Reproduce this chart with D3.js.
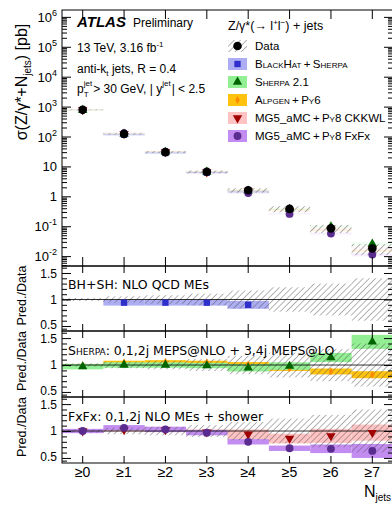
<!DOCTYPE html>
<html>
<head>
<meta charset="utf-8">
<script src="https://cdn.jsdelivr.net/npm/d3@7"></script>
<style>
  body { margin: 0; background: #fff; }
  svg text { font-family: "Liberation Sans", Arial, sans-serif; fill: #000; }
  .sc { font-variant: small-caps; }
  .dv { font-family: "DejaVu Sans", sans-serif; }
</style>
</head>
<body>
<div id="chart"></div>
<script>
// ---- data ----
var categories = ["≥0", "≥1", "≥2", "≥3", "≥4", "≥5", "≥6", "≥7"];
var dataXsec   = [780, 122, 30, 6.6, 1.6, 0.38, 0.085, 0.018];   // pb
var dataUnc    = [0.03, 0.06, 0.08, 0.11, 0.17, 0.23, 0.30, 0.40];

// ratios Pred./Data and their relative band half-widths
var bhshRatio   = [null, 0.94, 0.94, 0.94, 0.90, null, null, null];
var bhshUnc     = [null, 0.055, 0.055, 0.055, 0.075, null, null, null];
var sherpaRatio = [0.97, 1.00, 1.00, 0.99, 0.95, 0.98, 1.14, 1.43];
var sherpaUnc   = [0.05, 0.05, 0.05, 0.05, 0.07, 0.07, 0.085, 0.13];
var alpgenRatio = [0.99, 1.05, 1.06, 1.05, 1.01, 0.94, 0.88, 0.82];
var alpgenUnc   = [0.03, 0.03, 0.03, 0.03, 0.045, 0.05, 0.055, 0.065];
var ckkwlRatio  = [1.00, 1.02, 1.02, 0.98, 0.94, 0.86, 0.91, 0.97];
var ckkwlUnc    = [0.03, 0.03, 0.04, 0.05, 0.09, 0.09, 0.13, 0.15];
var fxfxRatio   = [1.00, 1.06, 1.03, 0.97, 0.80, 0.68, 0.67, 0.63];
var fxfxUnc     = [0.04, 0.05, 0.05, 0.05, 0.05, 0.05, 0.08, 0.13];

var mainTicks = [1e-2, 1e-1, 1, 10, 1e2, 1e3, 1e4, 1e5, 1e6];
var ratioTicks = [0.5, 1, 1.5];

function init() {
    var w = 392, h = 506;
    var x0 = 62, x1 = 393;

    var models = {
        bhsh:   {ratio: bhshRatio,   unc: bhshUnc,   band: "#adadf3", col: "#2f2fcc", sym: d3.symbolSquare,   size: 40, rot: 0},
        sherpa: {ratio: sherpaRatio, unc: sherpaUnc, band: "#93ef93", col: "#006400", sym: d3.symbolTriangle, size: 38, rot: 0},
        alpgen: {ratio: alpgenRatio, unc: alpgenUnc, band: "#ffc20e", col: "#ff8a00", sym: d3.symbolDiamond,  size: 18, rot: 0},
        ckkwl:  {ratio: ckkwlRatio,  unc: ckkwlUnc,  band: "#ffc3c3", col: "#a00000", sym: d3.symbolTriangle, size: 38, rot: 180},
        fxfx:   {ratio: fxfxRatio,   unc: fxfxUnc,   band: "#c28cf0", col: "#5b2c8f", sym: d3.symbolCircle,   size: 48, rot: 0}
    };

    var svg = d3.select("#chart").append("svg")
                .attr("width", w)
                .attr("height", h);

    // hatch pattern for the data uncertainty
    var defs = svg.append("defs");
    defs.append("pattern")
        .attr("id", "hatch")
        .attr("patternUnits", "userSpaceOnUse")
        .attr("width", 4.4).attr("height", 4.4)
        .attr("patternTransform", "rotate(45)")
      .append("line")
        .attr("x1", 0).attr("y1", 0).attr("x2", 0).attr("y2", 4.4)
        .attr("stroke", "#555").attr("stroke-width", 0.9);

    var x = d3.scaleBand().domain(categories).range([x0, x1]).padding(0);
    var bw = x.bandwidth();
    var cx = function(i) { return x(categories[i]) + bw / 2; };

    var yMain = d3.scaleLog()
                  .domain([Math.pow(10, -2.33), Math.pow(10, 6.23)])
                  .range([266, 10]);

    var panels = [[266, 331], [331, 397], [397, 463]];
    var yR = panels.map(function(p) {
        return d3.scaleLinear().domain([0.406, 1.632]).range([p[1], p[0]]);
    });

    panels.concat([[10, 266]]).forEach(function(p, i) {
        defs.append("clipPath").attr("id", "clip" + i)
            .append("rect").attr("x", x0).attr("y", p[0])
            .attr("width", x1 - x0).attr("height", p[1] - p[0]);
    });

    // ---------- main panel ----------
    var gm = svg.append("g").attr("clip-path", "url(#clip3)");

    // model bands (drawn pale)
    ["bhsh", "sherpa", "alpgen", "ckkwl", "fxfx"].forEach(function(k) {
        var m = models[k];
        categories.forEach(function(c, i) {
            if (m.ratio[i] == null) return;
            var v = dataXsec[i] * m.ratio[i];
            gm.append("rect")
              .attr("x", x(c)).attr("width", bw)
              .attr("y", yMain(v * (1 + m.unc[i])))
              .attr("height", yMain(v * (1 - m.unc[i])) - yMain(v * (1 + m.unc[i])))
              .attr("fill", m.band).attr("opacity", k === "bhsh" ? 0.55 : 0.14);
        });
    });

    // data hatch boxes
    gm.selectAll("rect.dunc")
      .data(categories)
      .enter().append("rect")
      .attr("class", "dunc")
      .attr("x", function(d) { return x(d); })
      .attr("width", bw)
      .attr("y", function(d, i) { return yMain(dataXsec[i] * (1 + dataUnc[i])); })
      .attr("height", function(d, i) {
          return yMain(dataXsec[i] * (1 - dataUnc[i])) - yMain(dataXsec[i] * (1 + dataUnc[i]));
      })
      .attr("fill", "url(#hatch)");

    // model markers
    ["ckkwl", "alpgen", "bhsh", "sherpa", "fxfx"].forEach(function(k) {
        var m = models[k];
        categories.forEach(function(c, i) {
            if (m.ratio[i] == null) return;
            gm.append("path")
              .attr("d", d3.symbol().type(m.sym).size(m.size)())
              .attr("transform", "translate(" + cx(i) + "," + yMain(dataXsec[i] * m.ratio[i]) + ") rotate(" + m.rot + ")")
              .attr("fill", m.col);
        });
    });

    // data markers
    gm.selectAll("circle.data")
      .data(categories)
      .enter().append("circle")
      .attr("cx", function(d, i) { return cx(i); })
      .attr("cy", function(d, i) { return yMain(dataXsec[i]); })
      .attr("r", 4.3)
      .attr("fill", "#000");

    // main axes
    var minor = [];
    for (var e = -3; e <= 6; e++) {
        for (var k = 2; k <= 9; k++) {
            var v = k * Math.pow(10, e);
            if (v > yMain.domain()[0] && v < yMain.domain()[1]) minor.push(v);
        }
    }
    svg.append("g").attr("transform", "translate(" + x0 + ",0)")
       .call(d3.axisRight(yMain).tickValues(mainTicks).tickSize(9).tickFormat(""));
    svg.append("g").attr("transform", "translate(" + x0 + ",0)")
       .call(d3.axisRight(yMain).tickValues(minor).tickSize(5).tickFormat(""));
    svg.append("g").attr("transform", "translate(" + x1 + ",0)")
       .call(d3.axisLeft(yMain).tickValues(mainTicks).tickSize(9).tickFormat(""));
    svg.append("g").attr("transform", "translate(" + x1 + ",0)")
       .call(d3.axisLeft(yMain).tickValues(minor).tickSize(5).tickFormat(""));
    svg.append("g").attr("transform", "translate(0,266)")
       .call(d3.axisTop(x).tickSize(9).tickFormat(""));
    svg.append("g").attr("transform", "translate(0,10)")
       .call(d3.axisBottom(x).tickSize(9).tickFormat(""));

    // main tick labels
    var labs = svg.append("g");
    mainTicks.forEach(function(v) {
        var ex = Math.round(Math.log10(v));
        var t = labs.append("text")
            .attr("x", 57).attr("y", yMain(v) + 5)
            .attr("text-anchor", "end")
            .style("font-size", "13px");
        if (ex === 0) { t.text("1"); }
        else if (ex === 1) { t.text("10"); }
        else {
            t.append("tspan").text("10");
            t.append("tspan").attr("dy", -6).style("font-size", "9px").text(ex < 0 ? "-" + (-ex) : ex);
        }
    });

    // ---------- ratio panels ----------
    var panelModels = [["bhsh"], ["alpgen", "sherpa"], ["ckkwl", "fxfx"]];
    var rMinor = [0.45, 0.6, 0.7, 0.8, 0.9, 1.1, 1.2, 1.3, 1.4, 1.6];

    panels.forEach(function(p, pi) {
        var y = yR[pi];
        var g = svg.append("g").attr("clip-path", "url(#clip" + pi + ")");

        panelModels[pi].forEach(function(k) {
            var m = models[k];
            categories.forEach(function(c, i) {
                if (m.ratio[i] == null) return;
                g.append("rect")
                 .attr("x", x(c)).attr("width", bw)
                 .attr("y", y(m.ratio[i] + m.unc[i]))
                 .attr("height", y(m.ratio[i] - m.unc[i]) - y(m.ratio[i] + m.unc[i]))
                 .attr("fill", m.band);
            });
        });

        // data uncertainty hatch around 1
        g.selectAll("rect.h")
         .data(categories)
         .enter().append("rect")
         .attr("x", function(d) { return x(d); })
         .attr("width", bw)
         .attr("y", function(d, i) { return y(1 + dataUnc[i]); })
         .attr("height", function(d, i) { return y(1 - dataUnc[i]) - y(1 + dataUnc[i]); })
         .attr("fill", "url(#hatch)");

        g.append("line")
         .attr("x1", x0).attr("x2", x1)
         .attr("y1", y(1)).attr("y2", y(1))
         .attr("stroke", "#000").attr("stroke-width", 0.8);

        panelModels[pi].forEach(function(k) {
            var m = models[k];
            categories.forEach(function(c, i) {
                if (m.ratio[i] == null) return;
                g.append("path")
                 .attr("d", d3.symbol().type(m.sym).size(m.size)())
                 .attr("transform", "translate(" + cx(i) + "," + y(m.ratio[i]) + ") rotate(" + m.rot + ")")
                 .attr("fill", m.col);
            });
        });

        svg.append("g").attr("transform", "translate(" + x0 + ",0)")
           .call(d3.axisRight(y).tickValues(ratioTicks).tickSize(9).tickFormat(""));
        svg.append("g").attr("transform", "translate(" + x0 + ",0)")
           .call(d3.axisRight(y).tickValues(rMinor).tickSize(5).tickFormat(""));
        svg.append("g").attr("transform", "translate(" + x1 + ",0)")
           .call(d3.axisLeft(y).tickValues(ratioTicks).tickSize(9).tickFormat(""));
        svg.append("g").attr("transform", "translate(" + x1 + ",0)")
           .call(d3.axisLeft(y).tickValues(rMinor).tickSize(5).tickFormat(""));
        svg.append("g").attr("transform", "translate(0," + p[1] + ")")
           .call(d3.axisTop(x).tickSize(7).tickFormat(""));
        svg.append("g").attr("transform", "translate(0," + p[0] + ")")
           .call(d3.axisBottom(x).tickSize(7).tickFormat(""));

        ratioTicks.forEach(function(v) {
            svg.append("text")
               .attr("x", 57).attr("y", y(v) + (v === 0.5 ? 3 : v === 1.5 ? 5 : 4))
               .attr("text-anchor", "end")
               .style("font-size", "12px")
               .text(v);
        });

        svg.append("text")
           .attr("transform", "translate(26," + ((p[0] + p[1]) / 2 - 3) + ") rotate(-90)")
           .attr("text-anchor", "middle")
           .style("font-size", "12.5px")
           .text("Pred./Data");
    });

    // frames
    svg.selectAll(".domain").remove();
    panels.concat([[10, 266]]).forEach(function(p) {
        svg.append("rect")
           .attr("x", x0).attr("y", p[0])
           .attr("width", x1 - x0).attr("height", p[1] - p[0])
           .attr("fill", "none").attr("stroke", "#000").attr("stroke-width", 1);
    });
    svg.selectAll(".tick line").attr("stroke", "#000").attr("stroke-width", 1);

    // x tick labels
    svg.selectAll("text.xl")
       .data(categories)
       .enter().append("text")
       .attr("x", function(d, i) { return cx(i); })
       .attr("y", 477)
       .attr("text-anchor", "middle")
       .style("font-size", "14px")
       .text(function(d) { return d; });

    var nj = svg.append("text").attr("x", 391).attr("y", 497)
       .attr("text-anchor", "end").style("font-size", "16px");
    nj.append("tspan").text("N");
    nj.append("tspan").attr("dy", 4).style("font-size", "10px").text("jets");

    // main y label
    var yl = svg.append("text")
       .attr("transform", "translate(27,82) rotate(-90)")
       .attr("text-anchor", "middle")
       .style("font-size", "16px");
    yl.append("tspan").text("σ(Z/γ*+N");
    yl.append("tspan").attr("dy", 4).style("font-size", "10px").text("jets");
    yl.append("tspan").attr("dy", -4).text(") [pb]");

    // ---------- ATLAS labels ----------
    svg.append("text").attr("x", 77).attr("y", 27)
       .style("font-size", "15px").style("font-weight", "bold").style("font-style", "italic")
       .text("ATLAS");
    svg.append("text").attr("x", 133).attr("y", 27)
       .style("font-size", "12px").text("Preliminary");
    var t2 = svg.append("text").attr("x", 77).attr("y", 52).style("font-size", "12px");
    t2.append("tspan").text("13 TeV, 3.16 fb");
    t2.append("tspan").attr("dy", -5).style("font-size", "8px").text("-1");
    var t3 = svg.append("text").attr("x", 77).attr("y", 73).style("font-size", "12px");
    t3.append("tspan").text("anti-k");
    t3.append("tspan").attr("dy", 3).style("font-size", "8px").text("t");
    t3.append("tspan").attr("dy", -3).text(" jets, R = 0.4");

    // p_T^jet line, laid out piece by piece
    var px = 77, py = 93;
    function piece(txt, dx, dy, size) {
        var t = svg.append("text").attr("x", px + dx).attr("y", py + dy)
                   .style("font-size", size + "px").text(txt);
        return t.node().getComputedTextLength();
    }
    var a = piece("p", 0, 0, 12);
    var s1 = piece("jet", a, -7, 8);
    var s2 = piece("T", a, 4, 8);
    px += a + Math.max(s1, s2) + 1;
    a = piece(" > 30 GeV, | y", 0, 0, 12);
    s1 = piece("jet", a, -7, 8);
    px += a + s1 + 1;
    piece("| < 2.5", 0, 0, 12);

    // ---------- legend ----------
    var lx = 228;
    var lt = svg.append("text").attr("x", lx).attr("y", 30).style("font-size", "12.5px");
    lt.text("Z/γ*(→ l");
    lt.append("tspan").attr("dy", -5).style("font-size", "8px").text("+");
    lt.append("tspan").attr("dy", 5).text("l");
    lt.append("tspan").attr("dy", -5).style("font-size", "8px").text("−");
    lt.append("tspan").attr("dy", 5).text(") + jets");

    var sp = "\u2009+\u2009";
    var entries = [
        {key: "data", y: 46, parts: [["Data", false]]},
        {key: "bhsh", y: 64, parts: [["BlackHat", true], [sp, false], ["Sherpa", true]]},
        {key: "sherpa", y: 82, parts: [["Sherpa", true], [" 2.1", false]]},
        {key: "alpgen", y: 100, parts: [["Alpgen", true], [sp, false], ["Py", true], ["6", false]]},
        {key: "ckkwl", y: 118, parts: [["MG5_aMC" + sp, false], ["Py", true], ["8 CKKWL", false]]},
        {key: "fxfx", y: 136, parts: [["MG5_aMC" + sp, false], ["Py", true], ["8 FxFx", false]]}
    ];
    entries.forEach(function(e) {
        if (e.key === "data") {
            svg.append("rect").attr("x", lx).attr("y", e.y - 6).attr("width", 19).attr("height", 12)
               .attr("fill", "url(#hatch)");
            svg.append("circle").attr("cx", lx + 9.5).attr("cy", e.y).attr("r", 4.3).attr("fill", "#000");
        } else {
            var m = models[e.key];
            svg.append("rect").attr("x", lx).attr("y", e.y - 6).attr("width", 19).attr("height", 12)
               .attr("fill", m.band);
            svg.append("path")
               .attr("d", d3.symbol().type(m.sym).size(m.size)())
               .attr("transform", "translate(" + (lx + 9.5) + "," + e.y + ") rotate(" + m.rot + ")")
               .attr("fill", m.col);
        }
        var t = svg.append("text").attr("x", 255).attr("y", e.y + 4).style("font-size", "11.5px");
        e.parts.forEach(function(p) {
            var s = t.append("tspan").text(p[0]);
            if (p[1]) s.attr("class", "sc");
        });
    });

    // ---------- panel captions ----------
    svg.append("text").attr("class", "dv").attr("x", 68).attr("y", 289)
       .style("font-size", "12.5px").text("BH+SH: NLO QCD MEs");
    var c2 = svg.append("text").attr("class", "dv").attr("x", 68).attr("y", 355)
       .style("font-size", "12.5px");
    c2.append("tspan").attr("class", "sc").text("Sherpa");
    c2.append("tspan").text(": 0,1,2j MEPS@NLO + 3,4j MEPS@LO");
    svg.append("text").attr("class", "dv").attr("x", 68).attr("y", 421)
       .style("font-size", "12.5px").text("FxFx: 0,1,2j NLO MEs + shower");
}

window.onload = init;
</script>
</body>
</html>
